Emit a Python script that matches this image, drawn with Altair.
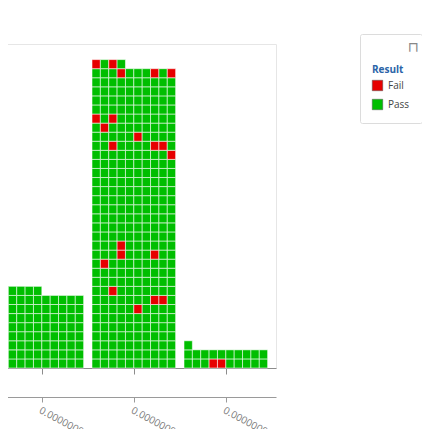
import altair as alt
import pandas as pd

# ---- data ----
bin_counts = [85, 334, 21]                       # units per histogram bin
bin_fail_cells = [                               # fill-order index of each "Fail" unit
    [],
    [65, 77, 78, 82, 111, 123, 127, 133, 239, 242, 247, 248, 255, 261, 270, 272,
     323, 327, 329, 330, 332],
    [3, 4],
]
tick_labels = ["0.00000000105", "0.00000000115", "0.00000000125"]
results = ["Fail", "Pass"]
result_colors = ["#e60000", "#00be00"]

COLS = 10      # units per row inside a bin
STEP = 11      # bin width + one unit gap

rows = []
for b, (count, fails) in enumerate(zip(bin_counts, bin_fail_cells)):
    for idx in range(count):
        col = idx % COLS
        r = idx // COLS
        rows.append({
            "x0": b * STEP + col, "x1": b * STEP + col + 1,
            "y0": r, "y1": r + 1,
            "Result": "Fail" if idx in fails else "Pass",
        })
df = pd.DataFrame(rows)

tick_vals = [b * STEP + COLS / 2 for b in range(len(bin_counts))]
label_expr = "''"
for v, lab in reversed(list(zip(tick_vals, tick_labels))):
    label_expr = f"datum.value == {v} ? '{lab}' : ({label_expr})"

xscale = alt.Scale(domain=[-STEP, STEP * len(bin_counts)], nice=False, zero=False)
yscale = alt.Scale(domain=[0, 35.72], nice=False, zero=False)

cells = alt.Chart(df).mark_rect(stroke="white", strokeWidth=1, strokeOpacity=0.55).encode(
    x=alt.X("x0:Q", scale=xscale,
            axis=alt.Axis(values=tick_vals, labels=False, ticks=True, tickSize=6,
                          tickColor="#8c8c8c", domainColor="#8c8c8c", domainWidth=1.2,
                          grid=False, title=None, orient="bottom")),
    x2="x1",
    y=alt.Y("y0:Q", scale=yscale, axis=None),
    y2="y1",
    color=alt.Color("Result:N",
                    scale=alt.Scale(domain=results, range=result_colors),
                    legend=alt.Legend(
                        orient="none", legendX=452, legendY=-10,
                        title=["\u00a0", "Result"], titleLineHeight=19,
                        titleFontSize=10, titleFontWeight="bold", titleColor="#2b65a8",
                        titleFont="Open Sans", titlePadding=5,
                        symbolType="square", symbolSize=110, symbolStrokeWidth=0.5,
                        symbolStrokeColor="#555555",
                        labelFont="Open Sans", labelFontSize=10, labelColor="#444444",
                        rowPadding=6, labelOffset=5,
                        padding=12, strokeColor="#dcdcdc",
                        cornerRadius=2)),
)

label_axis = alt.Chart(df).mark_rect(opacity=0).encode(
    x=alt.X("x0:Q", scale=xscale,
            axis=alt.Axis(values=tick_vals, labelExpr=label_expr, offset=29,
                          tickSize=5, tickColor="#9a9a9a", domainColor="#9a9a9a",
                          domainWidth=1.2, grid=False, title=None, orient="bottom",
                          labelAngle=28, labelAlign="left", labelBaseline="top",
                          labelPadding=3, labelFont="Open Sans", labelFontSize=10,
                          labelColor="#777777", labelLimit=200)),
    x2="x1",
    y=alt.Y("y0:Q", scale=yscale, axis=None),
    y2="y1",
)

icon = alt.Chart(alt.Data(values=[{"k": 1}])).mark_text(
    fontSize=14, color="#888888", font="DejaVu Sans", align="center", baseline="middle"
).encode(x=alt.value(505), y=alt.value(4), text=alt.value("\u2293"))

chart = alt.layer(cells, label_axis, icon).resolve_axis(x="independent").properties(
    width=368, height=324,
    padding={"left": -100, "top": 36, "right": 146, "bottom": 70},
    autosize=alt.AutoSizeParams(type="none"),
).configure_view(stroke="#e6e6e6", strokeWidth=1)

chart.save("out.html", embed_options={"renderer": "svg", "actions": False})
